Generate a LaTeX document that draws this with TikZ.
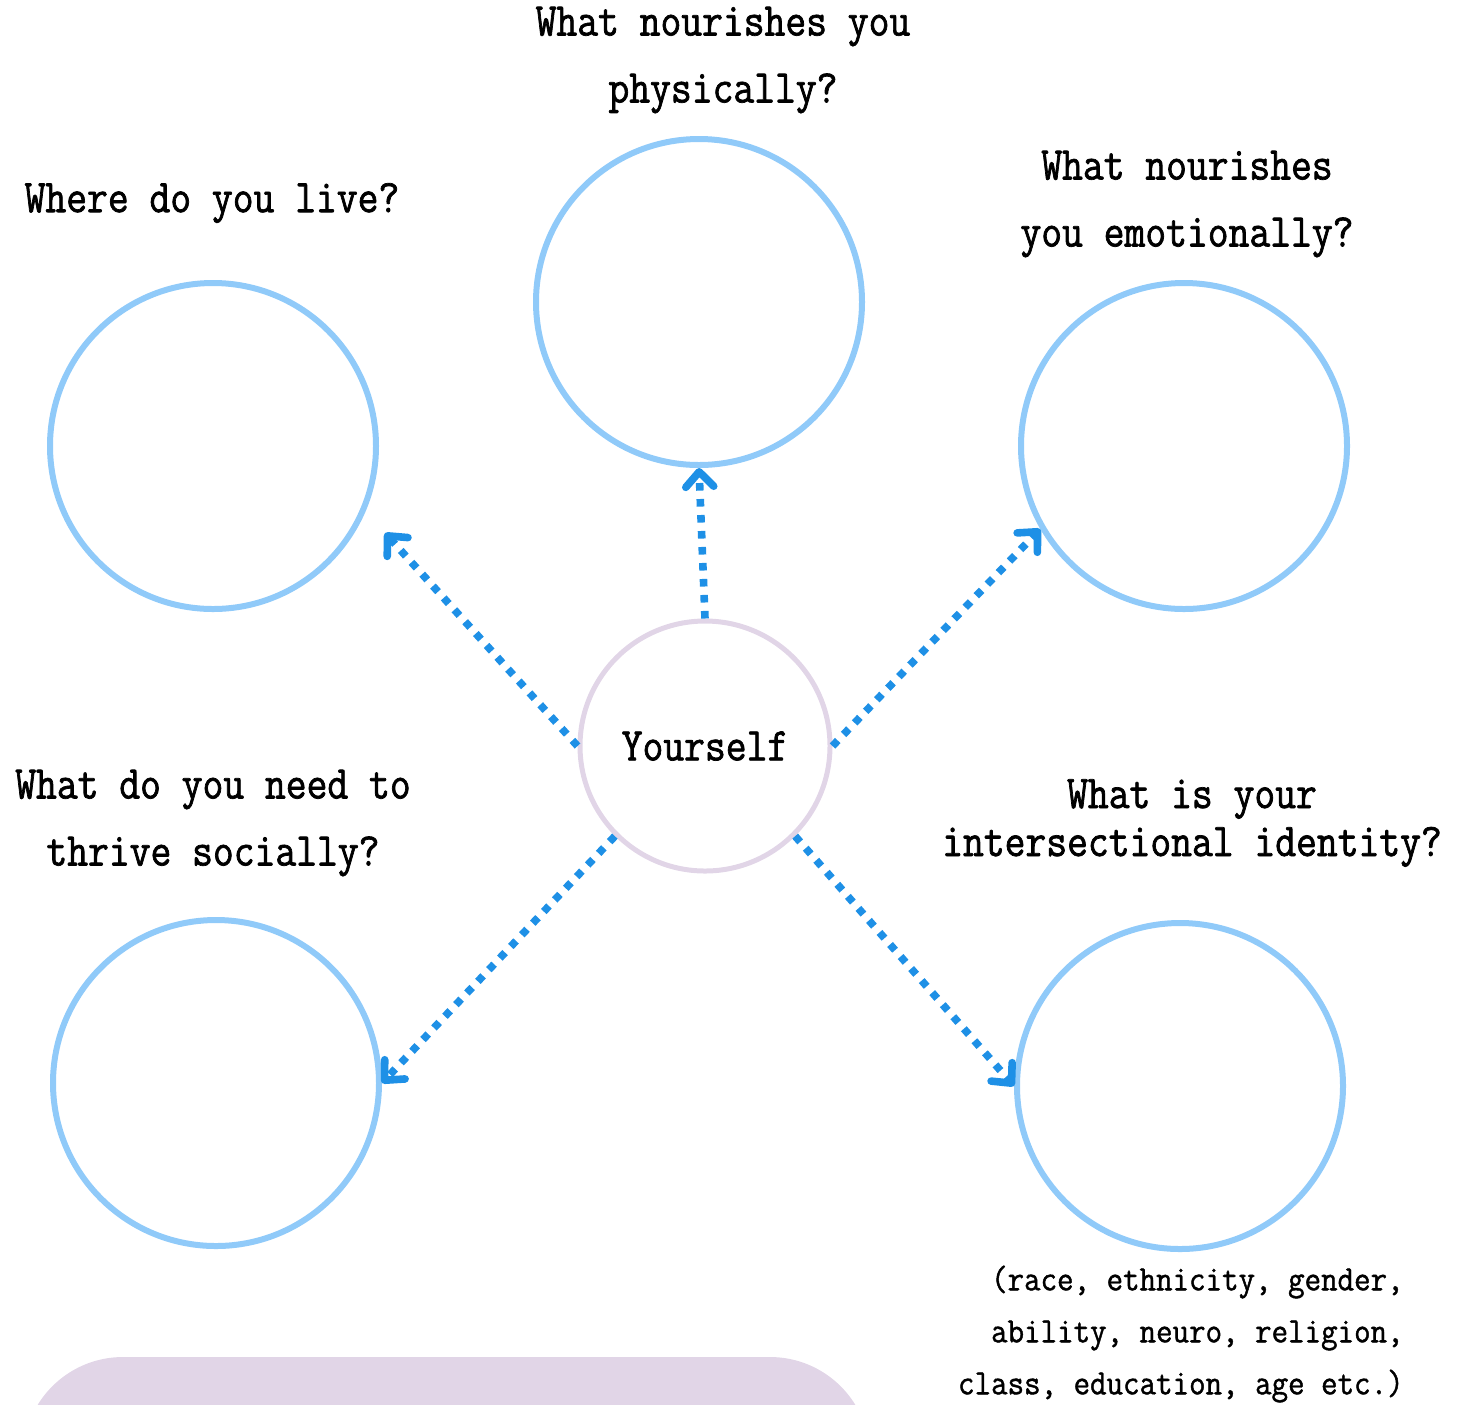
\documentclass[tikz,border=0pt]{standalone}
\usepackage{fontspec}
\usepackage{tikz}
\usetikzlibrary{arrows.meta}
\usetikzlibrary{positioning}

\newfontfamily\typefont[FakeStretch=0.86,FakeBold=1.5]{Latin Modern Mono}
\newfontfamily\notefont[FakeStretch=0.9,FakeBold=1.2]{Latin Modern Mono}
\definecolor{topicblue}{HTML}{90CAF9}
\definecolor{arrowblue}{HTML}{1E90E6}
\definecolor{lavender}{HTML}{E1D5E7}

\begin{document}
\begin{tikzpicture}[x=0.5pt,y=-0.5pt]

   %Styles of circles, labels and arrows
   \tikzstyle{topic} = [circle, minimum size=163pt, draw=topicblue, line width=3pt]
   \tikzstyle{centre} = [circle, minimum size=125pt, draw=lavender, line width=2.5pt, font={\typefont\fontsize{23.5}{28}\selectfont}]
   \tikzstyle{question} = [align=center, inner sep=0pt, font={\typefont\fontsize{23.5}{33.5}\selectfont}]
   \tikzstyle{note} = [align=right, inner sep=0pt, anchor=east, font={\notefont\fontsize{17.8}{26}\selectfont}]
   \tikzstyle{arrow} = [line width=3.8pt, draw=arrowblue, dash pattern=on 3.8pt off 4.2pt, -{Straight Barb[length=7.5pt,width=14pt,line cap=round,line join=round]}]

   %Page size
   \useasboundingbox (0,0) rectangle (1465,1404);

   %Panel at the bottom
   \fill[lavender, rounded corners=50pt] (23,1357) rectangle (870,1520);

   %Circles
   \node[centre] (self) at (705,746) {Yourself};
   \node[topic] (phys) at (699,302) {};
   \node[topic] (live) at (213,446) {};
   \node[topic] (emo) at (1184,446) {};
   \node[topic] (social) at (216,1083) {};
   \node[topic] (identity) at (1180,1086) {};

   %Questions
   \node[question] (physq) at (723,60) {What nourishes you\\physically?};
   \node[question] (liveq) at (212,203) {Where do you live?};
   \node[question] (emoq) at (1187,204) {What nourishes\\you emotionally?};
   \node[question] (socialq) at (213,823) {What do you need to\\thrive socially?};
   \node[question] (identityq) at (1192,823) {What is your\\[-9.5pt]intersectional identity?};
   \node[note] (identitynote) at (1404,1334) {(race, ethnicity, gender,\\ability, neuro, religion,\\class, education, age etc.)};

   %Arrows
   \coordinate (livetip) at (385,533);
   \draw[arrow] (self.north) -- (phys.south);
   \draw[arrow] (self.west) -- (livetip);
   \draw[arrow] (self.east) -- (emo.210);
   \draw[arrow] (self.south west) -- (social.east);
   \draw[arrow] (self.south east) -- (identity.west);

\end{tikzpicture}
\end{document}
